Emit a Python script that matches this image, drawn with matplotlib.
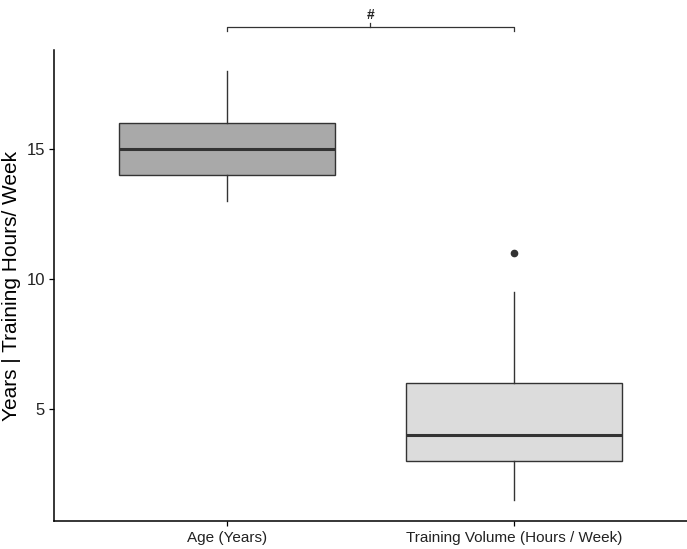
import matplotlib
matplotlib.use("Agg")
import matplotlib.pyplot as plt

plt.rcParams['font.family'] = ['Liberation Sans', 'DejaVu Sans']

# box summary values
groups = ["Age (Years)", "Training Volume (Hours / Week)"]
q1 = [14, 3]
medians = [15, 4]
q3 = [16, 6]
whisk_lo = [13, 1.5]
whisk_hi = [18, 9.5]
outliers = [[], [11]]
fills = ["#A9A9A9", "#DCDCDC"]

stats = []
for i in range(len(groups)):
    stats.append({
        "label": groups[i],
        "q1": q1[i], "med": medians[i], "q3": q3[i],
        "whislo": whisk_lo[i], "whishi": whisk_hi[i],
        "fliers": outliers[i],
    })

fig = plt.figure(figsize=(6.87, 5.49), dpi=100)
ax = fig.add_axes([54 / 687, 28 / 549, 633 / 687, 471 / 549])

bp = ax.bxp(stats, positions=[1, 2], widths=0.75, patch_artist=True,
            showcaps=False,
            boxprops=dict(edgecolor="#333333", linewidth=1.0),
            whiskerprops=dict(color="#333333", linewidth=1.0),
            medianprops=dict(color="#333333", linewidth=2.2),
            flierprops=dict(marker="o", markerfacecolor="#333333",
                            markeredgecolor="#333333", markersize=4.5))
for patch, c in zip(bp["boxes"], fills):
    patch.set_facecolor(c)

ax.set_xlim(0.4, 2.6)
ax.set_ylim(0.675, 18.825)
ax.set_yticks([5, 10, 15])
ax.set_ylabel("Years | Training Hours/ Week", fontsize=15, labelpad=4)

for s in ["top", "right"]:
    ax.spines[s].set_visible(False)
for s in ["left", "bottom"]:
    ax.spines[s].set_linewidth(1.1)
    ax.spines[s].set_color("black")
ax.tick_params(axis="both", length=3.5, width=0.9, colors="black",
               labelsize=11, labelcolor="#222222")
ax.tick_params(axis="y", labelsize=12, pad=3)

# significance bracket above the panel
yb = 19.7
ax.plot([1, 1, 2, 2], [yb - 0.15, yb, yb, yb - 0.15], color="#333333",
        lw=0.9, clip_on=False)
ax.plot([1.5, 1.5], [yb, yb + 0.15], color="#333333", lw=0.9, clip_on=False)
ax.text(1.5, yb + 0.2, "#", ha="center", va="bottom", fontsize=10,
        fontweight="bold", color="#222222", clip_on=False)

fig.savefig("out.png", dpi=100)
